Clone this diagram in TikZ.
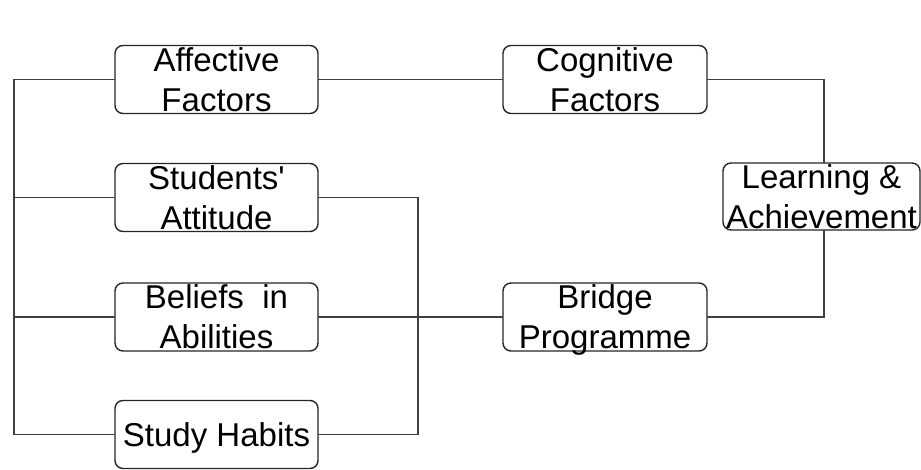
\documentclass[tikz,border=0pt]{standalone}
\usepackage{fontspec}
\setmainfont{Liberation Sans}[Ligatures=TeXOff]
\begin{document}
\begin{tikzpicture}[x=1pt,y=-1pt,
  factor/.style={draw=black!85, line width=1.4pt, rounded corners=8pt,
    minimum width=203pt, minimum height=68pt, inner sep=0pt, outer sep=0pt,
    align=center, text depth=0pt, font=\fontsize{33}{40}\selectfont},
  link/.style={draw=black!75, line width=1.6pt}]
\useasboundingbox[fill=white] (0,0) rectangle (921,470);

% factor boxes
\node[factor] (aff) at (216.5,79.5)  {Affective\\Factors};
\node[factor] (stu) at (216.5,197.5) {Students'\\Attitude};
\node[factor] (bel) at (216.5,317) {Beliefs~~in\\Abilities};
\node[factor] (hab) at (216.5,434.5) {Study Habits};
\node[factor, minimum width=204pt] (cog) at (605,79.5) {Cognitive\\Factors};
\node[factor, minimum width=204pt] (bri) at (605,317) {Bridge\\Programme};
\node[factor, minimum width=197pt, minimum height=67pt] (lea) at (821.5,196.5) {Learning \&\\Achievement};

% junction columns
\coordinate (spine) at (14,0);
\coordinate (mid) at (418,0);
\coordinate (right) at (824,0);

% left spine joining the affective group
\draw[link] (aff.west) -- (aff.west -| spine) -- (hab.west -| spine) -- (hab.west);
\draw[link] (stu.west) -- (stu.west -| spine);
\draw[link] (bel.west) -- (bel.west -| spine);

% attitude and habits bracket
\draw[link] (stu.east) -- (stu.east -| mid) -- (hab.east -| mid) -- (hab.east);

% horizontal links
\draw[link] (aff.east) -- (cog.west);
\draw[link] (bel.east) -- (bri.west);

% links into learning and achievement
\draw[link] (cog.east) -- (cog.east -| right) -- (lea.north -| right);
\draw[link] (lea.south -| right) -- (bri.east -| right) -- (bri.east);
\end{tikzpicture}
\end{document}
